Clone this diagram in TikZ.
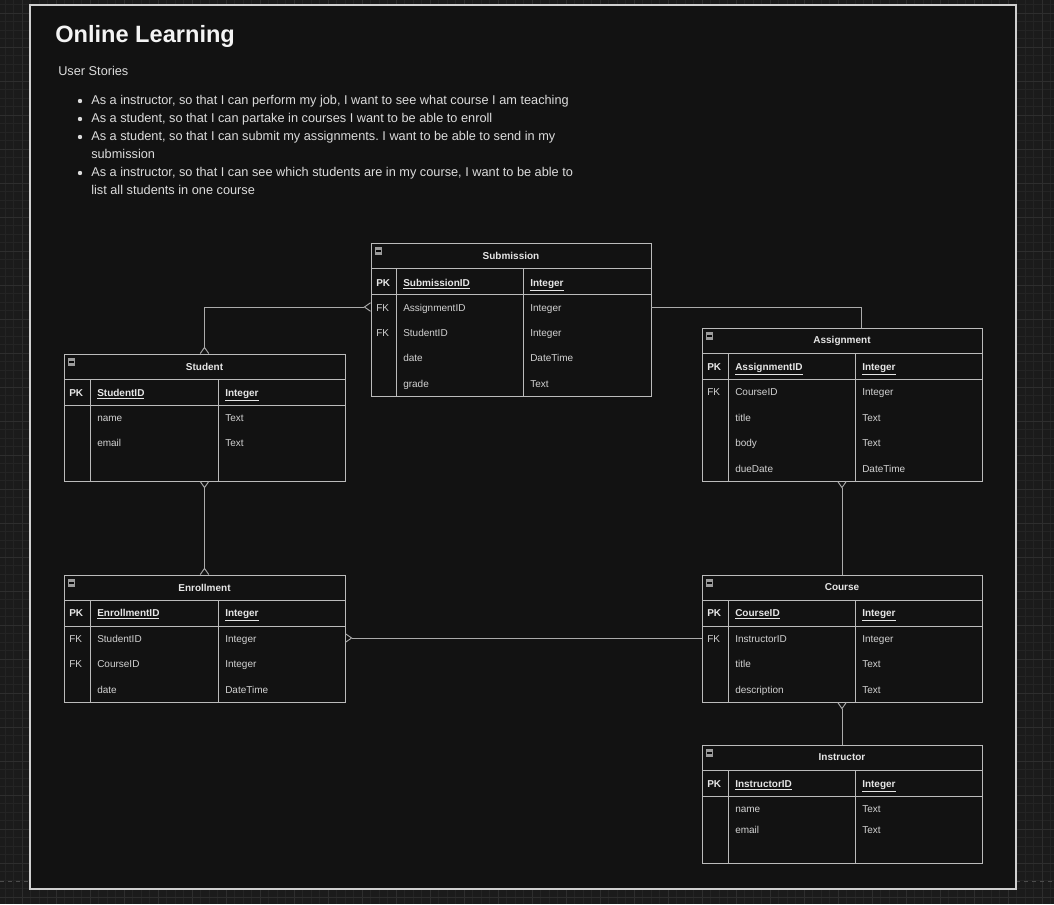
\documentclass[tikz,border=0pt]{standalone}
\usepackage{fontspec}
\setmainfont{Liberation Sans}
\usetikzlibrary{arrows.meta,calc}
\frenchspacing
\definecolor{bgout}{HTML}{1B1B1B}
\definecolor{gridmin}{HTML}{242424}
\definecolor{gridmaj}{HTML}{2E2E2E}
\definecolor{bgin}{HTML}{121212}
\definecolor{framecol}{HTML}{D0D0D0}
\definecolor{tblcol}{HTML}{BBBBBB}
\definecolor{conncol}{HTML}{ABABAB}
\definecolor{txthead}{HTML}{E6E6E6}
\definecolor{txtrow}{HTML}{D2D2D2}
\definecolor{titlecol}{HTML}{F4F4F4}
\definecolor{storycol}{HTML}{DCDCDC}
\definecolor{iconcol}{HTML}{9C9C9C}
\tikzset{
  crow/.tip={Straight Barb[reversed,length=4.6pt,width=6.4pt]},
  gridminor/.style={draw=gridmin,line width=0.5pt},
  gridmajor/.style={draw=gridmaj,line width=0.6pt},
  pagebreak/.style={draw=gray!60!black,line width=0.8pt,dash pattern=on 3pt off 3pt},
  tblbox/.style={draw=tblcol,fill=bgin,line width=0.65pt,inner sep=0pt,outer sep=0pt},
  tblline/.style={draw=tblcol,line width=0.65pt},
  tbltitle/.style={text=txthead,font=\fontsize{7.5pt}{9pt}\selectfont\bfseries,inner sep=0pt},
  keytxt/.style={text=txtrow,font=\fontsize{7.5pt}{9pt}\selectfont,inner sep=0pt,anchor=west,text height=1.5ex,text depth=0.3ex},
  rowtxt/.style={text=txtrow,font=\fontsize{7.5pt}{9pt}\selectfont,inner sep=0pt,anchor=west,text height=1.5ex,text depth=0.3ex},
  pktxt/.style={text=txthead,font=\fontsize{7.5pt}{9pt}\selectfont\bfseries,inner sep=0pt,anchor=west,text height=1.5ex,text depth=0.3ex},
  conn/.style={draw=conncol,line width=0.7pt},
  storytxt/.style={text=storycol,font=\fontsize{9.56pt}{11pt}\selectfont,inner sep=0pt,anchor=west,text height=1.5ex,text depth=0.3ex},
  bullet/.style={circle,fill=storycol,inner sep=0pt,minimum size=3.3pt}
}
% table: name, x1, y1, x2, y2, title, col1, col2
\newcommand{\ertbl}[8]{%
  \def\tX{#2}\def\tA{#7}\def\tB{#8}\def\tN{#1}%
  \node[tblbox,anchor=north west,minimum width={(#4-#2)*0.75pt},minimum height={(#5-#3)*0.75pt}] (#1) at (#2,#3) {};
  \draw[tblline] (#2,#3+25.5) -- (#4,#3+25.5) (#2,#3+51.5) -- (#4,#3+51.5)
    (#7,#3+25.5) -- (#7,#5) (#8,#3+25.5) -- (#8,#5);
  \node[tbltitle] (#1-title) at ({(#2+#4)/2},#3+12.5) {#6};
  \fill[iconcol] (#2+3.5,#3+4) rectangle (#2+11,#3+11.5);
  \fill[bgin!60!black] (#2+5,#3+7) rectangle (#2+9.5,#3+8.5);
}
% pk row: id, y, field, type
\newcommand{\erpk}[4]{%
  \node[pktxt] (\tN-#1k) at (\tX+5,#2) {PK};
  \node[pktxt] (\tN-#1f) at (\tA+7,#2) {\underline{#3}};
  \node[pktxt] (\tN-#1t) at (\tB+7,#2) {\underline{#4}};
}
% row: id, y, key, field, type
\newcommand{\errow}[5]{%
  \node[keytxt] (\tN-#1k) at (\tX+5,#2) {#3};
  \node[rowtxt] (\tN-#1f) at (\tA+7,#2) {#4};
  \node[rowtxt] (\tN-#1t) at (\tB+7,#2) {#5};
}
\begin{document}
\begin{tikzpicture}[x=0.75pt,y=-0.75pt]
\useasboundingbox (0,0) rectangle (1054,904);
% background grid
\fill[bgout] (0,0) rectangle (1054,904);
\foreach \i in {0,...,123} \draw[gridminor] ({5+8.5*\i},0) -- ({5+8.5*\i},904);
\foreach \i in {0,...,106} \draw[gridminor] (0,{4.5+8.5*\i}) -- (1054,{4.5+8.5*\i});
\foreach \i in {0,...,30} \draw[gridmajor] ({22+34*\i},0) -- ({22+34*\i},904);
\foreach \i in {0,...,26} \draw[gridmajor] (0,{13+34*\i}) -- (1054,{13+34*\i});
\draw[pagebreak] (0,881.5) -- (1054,881.5);
% frame
\node[draw=framecol,fill=bgin,line width=1pt,anchor=north west,inner sep=0pt,outer sep=0pt,
  minimum width={986*0.75pt},minimum height={884*0.75pt}] (frame) at (30,5) {};
% title and stories
\node[text=titlecol,font=\fontsize{17.7pt}{20pt}\selectfont\bfseries,anchor=west,inner sep=0pt,text height=1.5ex,text depth=0.3ex] (title) at (55,38) {Online Learning};
\node[storytxt] (us) at (58,71) {User Stories};
\node[bullet] (b1) at (80,101) {};
\node[storytxt] (s1) at (91,100) {As a instructor, so that I can perform my job, I want to see what course I am teaching};
\node[bullet] (b2) at (80,119) {};
\node[storytxt] (s2) at (91,118) {As a student, so that I can partake in courses I want to be able to enroll};
\node[bullet] (b3) at (80,137) {};
\node[storytxt] (s3) at (91,136) {As a student, so that I can submit my assignments. I want to be able to send in my};
\node[storytxt] (s3b) at (91,154) {submission};
\node[bullet] (b4) at (80,173) {};
\node[storytxt] (s4) at (91,172) {As a instructor, so that I can see which students are in my course, I want to be able to};
\node[storytxt] (s4b) at (91,190) {list all students in one course};
% tables
\ertbl{sub}{371}{243}{651}{396}{Submission}{396}{523}
\erpk{p}{282}{SubmissionID}{Integer}
\errow{r1}{307}{FK}{AssignmentID}{Integer}
\errow{r2}{332}{FK}{StudentID}{Integer}
\errow{r3}{357}{}{date}{DateTime}
\errow{r4}{383}{}{grade}{Text}

\ertbl{stu}{64}{354}{345}{481}{Student}{90}{218}
\erpk{p}{392}{StudentID}{Integer}
\errow{r1}{417}{}{name}{Text}
\errow{r2}{442}{}{email}{Text}

\ertbl{asg}{702}{328}{982}{481}{Assignment}{728}{855}
\erpk{p}{366}{AssignmentID}{Integer}
\errow{r1}{391}{FK}{CourseID}{Integer}
\errow{r2}{417}{}{title}{Text}
\errow{r3}{442}{}{body}{Text}
\errow{r4}{468}{}{dueDate}{DateTime}

\ertbl{enr}{64}{575}{345}{702}{Enrollment}{90}{218}
\erpk{p}{612}{EnrollmentID}{Integer}
\errow{r1}{638}{FK}{StudentID}{Integer}
\errow{r2}{663}{FK}{CourseID}{Integer}
\errow{r3}{689}{}{date}{DateTime}

\ertbl{crs}{702}{575}{982}{702}{Course}{728}{855}
\erpk{p}{612}{CourseID}{Integer}
\errow{r1}{638}{FK}{InstructorID}{Integer}
\errow{r2}{663}{}{title}{Text}
\errow{r3}{689}{}{description}{Text}

\ertbl{ins}{702}{745}{982}{863}{Instructor}{728}{855}
\erpk{p}{783}{InstructorID}{Integer}
\errow{r1}{808}{}{name}{Text}
\errow{r2}{829}{}{email}{Text}

% connectors
\draw[conn,crow-crow] (sub.west |- sub-r1k) -| (stu.north);
\draw[conn] (sub.east |- sub-r1k) -| ($(asg.north)+(19,0)$);
\draw[conn,crow-crow] (stu.south) -- (enr.north);
\draw[conn,crow-] (enr.east |- enr-r1k) -- (crs.west |- crs-r1k);
\draw[conn,crow-] (asg.south) -- (crs.north);
\draw[conn,crow-] (crs.south) -- (ins.north);
\end{tikzpicture}
\end{document}
